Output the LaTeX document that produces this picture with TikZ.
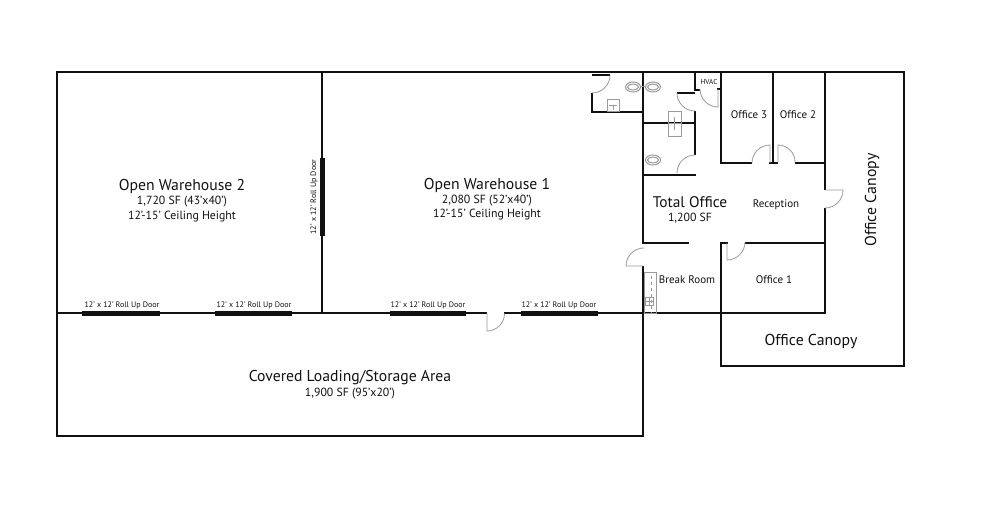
\documentclass[tikz,border=0pt]{standalone}
\usepackage{fontspec}
\setmainfont{PT Sans}
\definecolor{wallc}{HTML}{111111}
\definecolor{fixc}{HTML}{9A9A9A}
\tikzset{
 x=1pt,y=-1pt,
 wall/.style={draw=wallc,line width=2.9pt,line cap=butt,line join=miter},
 thinwall/.style={draw=wallc,line width=2pt,line cap=butt},
 rollup/.style={draw=wallc,line width=5pt,line cap=butt},
 swing/.style={draw=fixc,line width=0.8pt},
 fixture/.style={draw=fixc,line width=1pt},
 lab/.style={text=wallc,inner sep=0pt,align=center,font=\fontsize{#1}{#1}\selectfont},
 lab/.default=9,
 roll/.style={text=wallc,inner sep=0pt,font=\fontsize{8}{9}\selectfont},
}
\begin{document}
\begin{tikzpicture}
\useasboundingbox[fill=white] (0,0) rectangle (984,532);
% outer shell
\draw[wall] (57,313) -- (57,72) -- (904,72) -- (904,366) -- (721,366) -- (721,243);
\draw[wall] (57,313) -- (57,436) -- (643,436) -- (643,266);
\draw[wall] (57,313) -- (487,313) (504,313) -- (825,313) -- (825,208);
\draw[wall] (322,72) -- (322,313);
% roll up doors
\draw[rollup] (82,313) -- (160,313);
\draw[rollup] (215,313) -- (292,313);
\draw[rollup] (390,313) -- (466,313);
\draw[rollup] (521,313) -- (598,313);
\draw[rollup] (322,158) -- (322,236);
% main door
\draw[swing] (487,313) -- (487,331) arc[start angle=90,end angle=0,radius=17.5];
% office walls
\draw[wall] (643,72) -- (643,243) -- (689,243);
\draw[wall] (720,243) -- (728,243);
\draw[wall] (745,243) -- (825,243);
\draw[wall] (825,72) -- (825,190);
\draw[wall] (721,72) -- (721,163) -- (752,163);
\draw[wall] (773,72) -- (773,163);
\draw[wall] (769,163) -- (778,163);
\draw[wall] (795,163) -- (825,163);
% restroom walls
\draw[wall] (592,93) -- (592,112) -- (643,112);
\draw[thinwall] (592,75) -- (610,75);
\draw[wall] (643,123) -- (696,123);
\draw[wall] (643,175) -- (696,175);
\draw[wall] (695,72) -- (695,90) -- (700,90);
\draw[wall] (695,111) -- (695,155);
\draw[thinwall] (717,89) -- (721,89);
% swings
\draw[swing] (610,75) arc[start angle=0,end angle=90,radius=18];
\draw[draw=wallc,line width=1.2pt] (677,93) -- (695,93);
\draw[swing] (677,93) arc[start angle=180,end angle=90,radius=18];
\draw[swing] (695,155) arc[start angle=270,end angle=180,radius=18];
\draw[swing] (718,89) -- (718,107) arc[start angle=90,end angle=180,radius=18];
\draw[swing] (770,163) -- (770,145) arc[start angle=270,end angle=180,radius=18];
\draw[swing] (778,163) -- (778,145) arc[start angle=270,end angle=360,radius=17];
\draw[swing] (727,243) -- (727,260) arc[start angle=90,end angle=0,radius=18];
\draw[swing] (825,190) -- (843,190) arc[start angle=0,end angle=90,radius=18];
\draw[swing] (643,266) -- (626,266) arc[start angle=180,end angle=270,radius=18];
% toilets
\draw[fixture] (633,87) ellipse[x radius=7.5,y radius=5] (653,87) ellipse[x radius=7.5,y radius=5] (653,160) ellipse[x radius=7.5,y radius=5];
\draw[fixture] (633,87) ellipse[x radius=5.5,y radius=3] (653,87) ellipse[x radius=5.5,y radius=3] (653,160) ellipse[x radius=5.5,y radius=3];
\draw[fixture] (640,87) -- (646,87);
% sinks
\draw[fixture] (607,100) rectangle (619,112) (613,106) -- (613,110) (609,106) -- (617,106);
\draw[fixture] (668,112) rectangle (681,136) (668,123) -- (681,123) (674.5,117) -- (674.5,130);
% break room counter
\draw[fixture,line width=.6pt] (644,272) rectangle (656,313);
\draw[fixture,dashed,line width=.6pt] (651,276) -- (651,313);
\draw[fixture,line width=.8pt] (645,297) rectangle (653,305) (645,301) -- (653,301) (649,297) -- (649,305);
% labels
\node[lab=15.7] (w2) at (182,186.5) {Open Warehouse 2};
\node[lab=11.8] (w2a) at (182,202) {1,720 SF (43'x40')};
\node[lab=11.8] (w2b) at (182,217) {12'-15' Ceiling Height};
\node[lab=15.7] (w1) at (487,185.5) {Open Warehouse 1};
\node[lab=11.8] (w1a) at (487,200.5) {2,080 SF (52'x40')};
\node[lab=11.8] (w1b) at (487,215) {12'-15' Ceiling Height};
\node[lab=15.7] (cv) at (350,377.5) {Covered Loading/Storage Area};
\node[lab=11.8] (cva) at (350,393.5) {1,900 SF (95'x20')};
\node[lab=15.4] (to) at (690,202.5) {Total Office};
\node[lab=11.8] (toa) at (690,218.5) {1,200 SF};
\node[lab=11] (rc) at (776,204.5) {Reception};
\node[lab=11] (br) at (687,280) {Break Room};
\node[lab=11] (o1) at (774,280) {Office 1};
\node[lab=11] (o3) at (749,114.5) {Office 3};
\node[lab=11] (o2) at (798,114.5) {Office 2};
\node[lab=7.2] (hv) at (709,82) {HVAC};
\node[lab=15.8] (cn1) at (811,341) {Office Canopy};
\node[lab=15.8,rotate=90] (cn2) at (872,200) {Office Canopy};
\node[roll] (r1) at (122,305) {12' x 12' Roll Up Door};
\node[roll] (r2) at (254,305) {12' x 12' Roll Up Door};
\node[roll] (r3) at (428,305) {12' x 12' Roll Up Door};
\node[roll] (r4) at (559,305) {12' x 12' Roll Up Door};
\node[roll,rotate=90] (r5) at (314,197) {12' x 12' Roll Up Door};
\end{tikzpicture}
\end{document}
